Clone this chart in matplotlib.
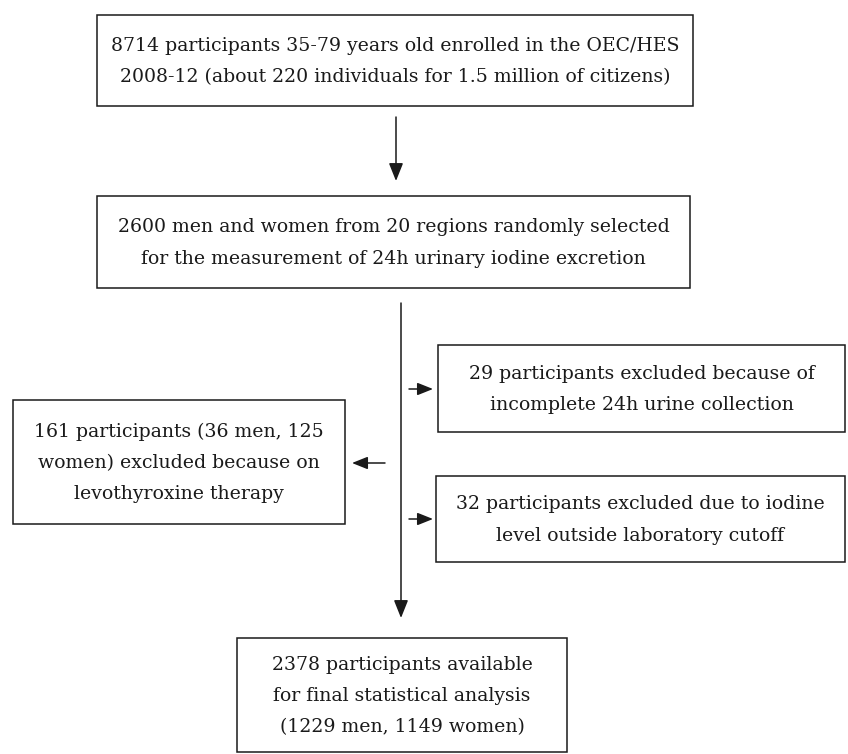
import matplotlib.pyplot as plt
from matplotlib.patches import Rectangle

plt.rcParams.update({
    "font.family": ["DejaVu Serif"],
    "font.size": 13.6,
})

# ---- Content ----
box_texts = [
    "8714 participants 35-79 years old enrolled in the OEC/HES\n"
    "2008-12 (about 220 individuals for 1.5 million of citizens)",
    "2600 men and women from 20 regions randomly selected\n"
    "for the measurement of 24h urinary iodine excretion",
    "29 participants excluded because of\n"
    "incomplete 24h urine collection",
    "161 participants (36 men, 125\n"
    "women) excluded because on\n"
    "levothyroxine therapy",
    "32 participants excluded due to iodine\n"
    "level outside laboratory cutoff",
    "2378 participants available\n"
    "for final statistical analysis\n"
    "(1229 men, 1149 women)",
]

# ---- Layout (pixel coords, y down) ----
# (x0, y0, x1, y1)
box_pos = [
    (97, 15, 693, 106),
    (97, 196, 690, 288),
    (438, 345, 845, 432),
    (13, 400, 345, 524),
    (436, 476, 845, 562),
    (237, 638, 567, 752),
]

# (x_start, y_start, x_end, y_end)
arrows = [
    (396, 117, 396, 181, "big"),
    (401, 303, 401, 618, "big"),
    (409, 389, 433, 389, "small"),
    (385, 463, 352, 463, "small"),
    (409, 519, 433, 519, "small"),
]

W, H = 848, 754
fig = plt.figure(figsize=(W / 100, H / 100), dpi=100)
ax = fig.add_axes([0, 0, 1, 1])
ax.set_xlim(0, W)
ax.set_ylim(H, 0)
ax.axis("off")

ink = "#1a1a1a"
for (x0, y0, x1, y1), txt in zip(box_pos, box_texts):
    ax.add_patch(Rectangle((x0, y0), x1 - x0, y1 - y0, fill=False,
                           edgecolor=ink, linewidth=1.1))
    ax.text((x0 + x1) / 2, (y0 + y1) / 2 + 1, txt, ha="center", va="center",
            color=ink, linespacing=1.95)

for xs, ys, xe, ye, kind in arrows:
    if kind == "big":
        style = "-|>,head_length=0.8,head_width=0.32"
    else:
        style = "-|>,head_length=0.7,head_width=0.28"
    ax.annotate("", xy=(xe, ye), xytext=(xs, ys),
                arrowprops=dict(arrowstyle=style, color=ink, lw=1.1,
                                shrinkA=0, shrinkB=0))

fig.savefig("out.png", dpi=100, facecolor="white")
